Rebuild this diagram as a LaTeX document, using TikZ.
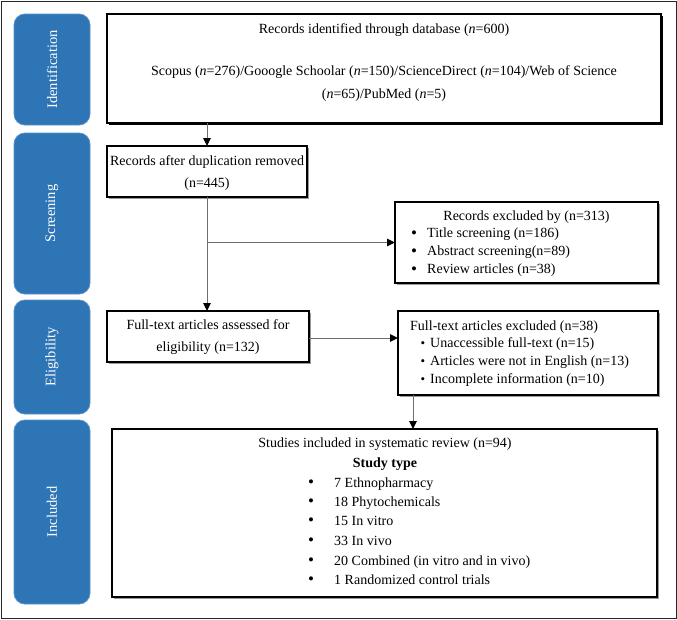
\documentclass[tikz,border=0pt]{standalone}
\usepackage{fontspec}
\setmainfont{Liberation Serif}
\usetikzlibrary{arrows.meta,shadows}
\definecolor{tabblue}{HTML}{2E75B6}
\definecolor{tabedge}{HTML}{5B8FC7}
\definecolor{lineg}{HTML}{6E6E6E}
\begin{document}
\begin{tikzpicture}[x=1pt,y=-1pt,
  tab/.style={draw=tabedge, line width=0.8pt, fill=tabblue, rounded corners=11pt, inner sep=0pt, outer sep=0pt},
  tablabel/.style={text=white, rotate=90, inner sep=0pt, font=\fontsize{14.5}{17}\selectfont},
  box/.style={draw=black, line width=1.1pt, fill=white, inner sep=0pt, outer sep=0pt, anchor=north west},
  shadowbk/.style={drop shadow={shadow xshift=2pt, shadow yshift=-2pt, fill=black, opacity=1}},
  shadowgr/.style={drop shadow={shadow xshift=1.5pt, shadow yshift=-1.5pt, fill=black!40, opacity=1}},
  txt/.style={inner sep=0pt, font=\fontsize{14}{17}\selectfont, anchor=base},
  ltxt/.style={txt, anchor=base west},
  bul/.style={inner sep=0pt, font=\fontsize{17}{17}\selectfont, anchor=base},
  sbul/.style={inner sep=0pt, font=\fontsize{13}{17}\selectfont, anchor=base},
  conn/.style={draw=lineg, line width=1pt, -{Triangle[length=8pt,width=7.5pt,color=black]}},
  plain/.style={draw=lineg, line width=1pt}]
\useasboundingbox (0,0) rectangle (677,619);
\node[draw=black!85, line width=1.2pt, minimum width=675pt, minimum height=617pt, anchor=north west, inner sep=0pt] (frame) at (1,1) {};

% side tabs
\node[tab, minimum width=76pt, minimum height=111pt, anchor=north west] (t1) at (14,14) {};
\node[tablabel] (t1l) at (t1.center) {Identification};
\node[tab, minimum width=76pt, minimum height=161pt, anchor=north west] (t2) at (14,133) {};
\node[tablabel] (t2l) at (t2.center) {Screening};
\node[tab, minimum width=76pt, minimum height=114pt, anchor=north west] (t3) at (14,300) {};
\node[tablabel] (t3l) at (t3.center) {Eligibility};
\node[tab, minimum width=76pt, minimum height=184pt, anchor=north west] (t4) at (14,420) {};
\node[tablabel] (t4l) at (t4.center) {Included};

% boxes
\node[box, shadowbk, minimum width=554pt, minimum height=109pt] (b1) at (107,14) {};
\node[txt] (b1a) at (384,33.5) {Records identified through database (\textit{n}=600)};
\node[txt] (b1b) at (384,75.5) {Scopus (\textit{n}=276)/Gooogle Schoolar (\textit{n}=150)/ScienceDirect (\textit{n}=104)/Web of Science};
\node[txt] (b1c) at (384,98.5) {(\textit{n}=65)/PubMed (\textit{n}=5)};

\node[box, shadowgr, minimum width=200pt, minimum height=51pt] (b2) at (107,146) {};
\node[txt] (b2a) at (207,165.5) {Records after duplication removed};
\node[txt] (b2b) at (207,187.5) {(n=445)};

\node[box, shadowgr, minimum width=263pt, minimum height=81pt] (b3) at (395,202) {};
\node[txt] (b3a) at (526.5,220.5) {Records excluded by (n=313)};
\node[bul] (b3d1) at (414,238) {\textbullet};
\node[ltxt] (b3t1) at (427,237.5) {Title screening (n=186)};
\node[bul] (b3d2) at (414,256) {\textbullet};
\node[ltxt] (b3t2) at (427,255.5) {Abstract screening(n=89)};
\node[bul] (b3d3) at (414,274) {\textbullet};
\node[ltxt] (b3t3) at (427,273.5) {Review articles (n=38)};

\node[box, shadowgr, minimum width=202pt, minimum height=51pt] (b4) at (107,311) {};
\node[txt] (b4a) at (208,329.5) {Full-text articles assessed for};
\node[txt] (b4b) at (208,351.5) {eligibility (n=132)};

\node[box, shadowgr, minimum width=260pt, minimum height=84pt] (b5) at (398,311) {};
\node[ltxt] (b5a) at (410,330.5) {Full-text articles excluded (n=38)};
\node[sbul] (b5d1) at (423,347.5) {\textbullet};
\node[ltxt] (b5t1) at (430,347.5) {Unaccessible full-text (n=15)};
\node[sbul] (b5d2) at (423,365.5) {\textbullet};
\node[ltxt] (b5t2) at (430,365.5) {Articles were not in English (n=13)};
\node[sbul] (b5d3) at (423,383.5) {\textbullet};
\node[ltxt] (b5t3) at (430,383.5) {Incomplete information (n=10)};

\node[box, shadowgr, minimum width=545pt, minimum height=168pt] (b6) at (112,429) {};
\node[txt] (b6a) at (385,447.5) {Studies included in systematic review (n=94)};
\node[txt, font=\fontsize{14}{17}\selectfont\bfseries] (b6b) at (385,467.5) {Study type};
\node[bul] (b6d1) at (311,487) {\textbullet};
\node[ltxt] (b6t1) at (334,487) {7 Ethnopharmacy};
\node[bul] (b6d2) at (311,506) {\textbullet};
\node[ltxt] (b6t2) at (334,506) {18 Phytochemicals};
\node[bul] (b6d3) at (311,525) {\textbullet};
\node[ltxt] (b6t3) at (334,525) {15 In vitro};
\node[bul] (b6d4) at (311,545) {\textbullet};
\node[ltxt] (b6t4) at (334,545) {33 In vivo};
\node[bul] (b6d5) at (311,565) {\textbullet};
\node[ltxt] (b6t5) at (334,565) {20 Combined (in vitro and in vivo)};
\node[bul] (b6d6) at (311,584.5) {\textbullet};
\node[ltxt] (b6t6) at (334,584.5) {1 Randomized control trials};

% connectors
\coordinate (c1) at (b2.north |- b1.south);
\draw[conn] (c1) -- (b2.north);
\coordinate (c2) at (b2.south |- b4.north);
\draw[conn] (b2.south) -- (c2);
\coordinate (c3) at (b2.south |- b3.west);
\draw[conn] (c3) -- (b3.west);
\coordinate (c4) at ([yshift=-1.5pt]b4.east);
\coordinate (c4e) at (c4 -| b5.west);
\draw[conn] (c4) -- (c4e);
\coordinate (c5) at ([xshift=15pt]b5.south west);
\coordinate (c5e) at (c5 |- b6.north);
\draw[conn] (c5) -- (c5e);
\end{tikzpicture}
\end{document}
